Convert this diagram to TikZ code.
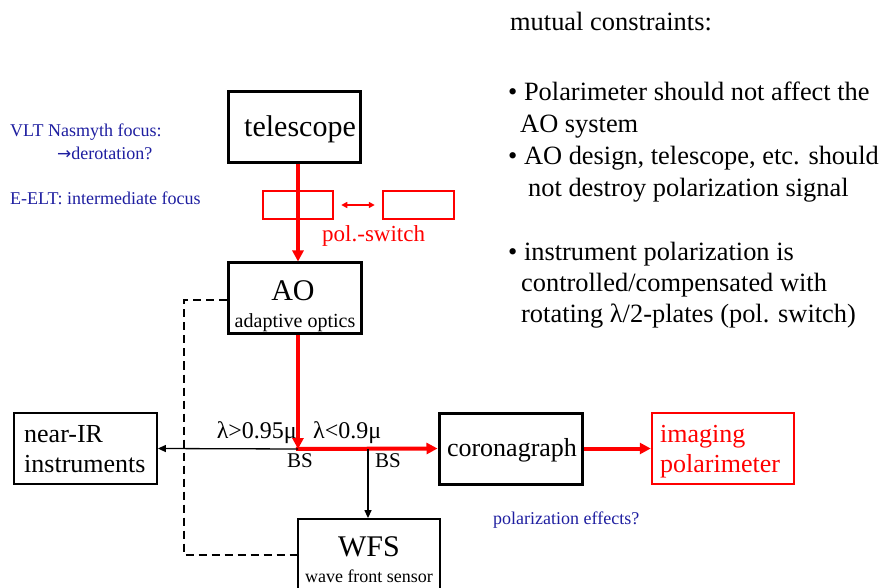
\documentclass[tikz,border=0pt]{standalone}
\usepackage{fontspec}
\setmainfont{Liberation Serif}
\newfontfamily\arrowfont{DejaVu Sans}
\usetikzlibrary{arrows.meta}
\definecolor{myblue}{RGB}{30,30,160}
\definecolor{myred}{RGB}{255,0,0}
\tikzset{
  thickbox/.style={draw=black, line width=3pt, inner sep=0pt},
  thinbox/.style={draw=black, line width=1.8pt, inner sep=0pt},
  redbox/.style={draw=myred, line width=2.5pt, inner sep=0pt},
  redline/.style={draw=myred, line width=4pt},
  blacklink/.style={draw=black, line width=1.3pt},
  dashlink/.style={draw=black, line width=1.3pt, dash pattern=on 8pt off 5pt},
  bluetxt/.style={text=myblue, font=\fontsize{18}{22}\selectfont, inner sep=0pt, anchor=base west},
  righttxt/.style={font=\fontsize{26.4}{31}\selectfont, inner sep=0pt, anchor=base west},
  redtip/.style={-{Triangle[length=11pt,width=11pt]}},
}
\begin{document}
\begin{tikzpicture}[x=1pt,y=-1pt]
\useasboundingbox (0,0) rectangle (879,588);
% boxes
\node[thickbox, minimum width=132pt, minimum height=71pt] (tel) at (294,127.5) {};
\node[font=\fontsize{30}{36}\selectfont, inner sep=0pt, anchor=base] (teltxt) at (300,137) {telescope};
\node[redbox, minimum width=70pt, minimum height=28pt] (ps1) at (298,205) {};
\node[redbox, minimum width=71pt, minimum height=28pt] (ps2) at (418.5,205) {};
\node[text=myred, font=\fontsize{23}{28}\selectfont, inner sep=0pt, anchor=base west] (pstxt) at (322,242) {pol.-switch};
\node[thickbox, minimum width=133pt, minimum height=71pt] (ao) at (294.5,298.5) {};
\node[font=\fontsize{30}{36}\selectfont, inner sep=0pt, anchor=base] (aotxt) at (293,301) {AO};
\node[font=\fontsize{20}{24}\selectfont, inner sep=0pt, anchor=base] (aosub) at (295,327) {adaptive optics};
\node[thinbox, minimum width=143pt, minimum height=71pt] (nir) at (85.5,448.5) {};
\node[font=\fontsize{26}{31}\selectfont, inner sep=0pt, anchor=base west] (nir1) at (24,442) {near-IR};
\node[font=\fontsize{26}{31}\selectfont, inner sep=0pt, anchor=base west] (nir2) at (24,472) {instruments};
\node[thickbox, minimum width=143pt, minimum height=71pt] (cor) at (510.5,448.5) {};
\node[font=\fontsize{26}{31}\selectfont, inner sep=0pt, anchor=base] (cortxt) at (512,456) {coronagraph};
\node[redbox, minimum width=142pt, minimum height=71pt] (pol) at (723,448.5) {};
\node[text=myred, font=\fontsize{26}{31}\selectfont, inner sep=0pt, anchor=base west] (pol1) at (660,442) {imaging};
\node[text=myred, font=\fontsize{26}{31}\selectfont, inner sep=0pt, anchor=base west] (pol2) at (660,472) {polarimeter};
\node[thinbox, minimum width=142pt, minimum height=80pt] (wfs) at (369,559) {};
\node[font=\fontsize{30}{36}\selectfont, inner sep=0pt, anchor=base] (wfstxt) at (369,556) {WFS};
\node[font=\fontsize{18}{22}\selectfont, inner sep=0pt, anchor=base] (wfssub) at (369,582) {wave front sensor};
% junctions
\coordinate (bs1) at (298,449);
\coordinate (bs2) at (368,449);
\coordinate (d1) at (184,300);
\coordinate (d2) at (184,555);
% red optical path
\draw[redline, redtip] (tel.south -| bs1) -- (ao.north -| bs1);
\draw[redline, redtip] (ao.south -| bs1) -- (bs1);
\draw[redline, redtip] ([xshift=-2pt]bs1) -- (cor.west);
\draw[redline, redtip] (cor.east) -- (pol.west);
\draw[myred, line width=1.5pt, {Triangle[length=6pt,width=6pt]}-{Triangle[length=6pt,width=6pt]}] ([xshift=7pt]ps1.east) -- ([xshift=-7pt]ps2.west);
% black links
\draw[blacklink, -{Triangle[length=8pt,width=7pt]}] (bs1) -- (nir.east);
\draw[blacklink, -{Triangle[length=8pt,width=7pt]}] (bs2) -- (wfs.north -| bs2);
\draw[dashlink] (ao.west |- d1) -- (d1) -- (d2) -- (wfs.west |- d2);
% labels
\node[font=\fontsize{24}{29}\selectfont, inner sep=0pt, anchor=base east] (l1) at (297,438) {λ>0.95μ};
\node[font=\fontsize{24}{29}\selectfont, inner sep=0pt, anchor=base west] (l2) at (313,438) {λ<0.9μ};
\node[font=\fontsize{21}{25}\selectfont, inner sep=0pt, anchor=base west] (bst1) at (287,467) {BS};
\node[font=\fontsize{21}{25}\selectfont, inner sep=0pt, anchor=base west] (bst2) at (375,467) {BS};
% blue notes
\node[bluetxt] (b1) at (10,137) {VLT Nasmyth focus:};
\node[bluetxt] (b2) at (57,160) {{\arrowfont\fontsize{17}{20}\selectfont →}derotation?};
\node[bluetxt] (b3) at (10,205) {E-ELT: intermediate focus};
\node[bluetxt] (b4) at (493,524) {polarization effects?};
% right text
\node[righttxt] (r0) at (510,31) {mutual constraints:};
\node[righttxt] (r1) at (508,101) {• Polarimeter should not affect the};
\node[righttxt] (r2) at (520,133) {AO system};
\node[righttxt] (r3) at (508,165) {• AO design, telescope, etc. should};
\node[righttxt] (r4) at (528,197) {not destroy polarization signal};
\node[righttxt] (r5) at (508,261) {• instrument polarization is};
\node[righttxt] (r6) at (521,292) {controlled/compensated with};
\node[righttxt] (r7) at (521,323) {rotating λ/2-plates (pol. switch)};
\end{tikzpicture}
\end{document}
